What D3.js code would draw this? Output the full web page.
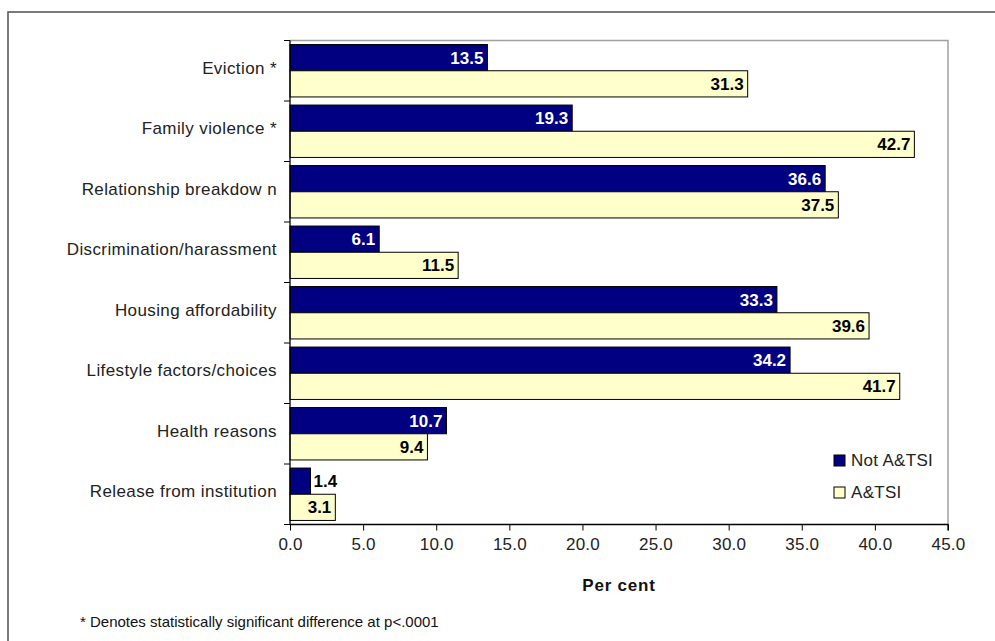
<!DOCTYPE html>
<html>
<head>
<meta charset="utf-8">
<script src="https://cdn.jsdelivr.net/npm/d3@7/dist/d3.min.js"></script>
<style>
	body { margin: 0; background: #fff; }
	svg { display: block; font-family: "Liberation Sans", Arial, sans-serif; }
</style>
</head>
<body>
<div id="chart"></div>
<script>
var categories = ["Eviction *", "Family violence *", "Relationship breakdow n", "Discrimination/harassment",
	"Housing affordability", "Lifestyle factors/choices", "Health reasons", "Release from institution"];
var seriesNames = ["Not A&TSI", "A&TSI"];
var notATSI = [13.5, 19.3, 36.6, 6.1, 33.3, 34.2, 10.7, 1.4];
var aTSI = [31.3, 42.7, 37.5, 11.5, 39.6, 41.7, 9.4, 3.1];
var xTicks = [0, 5, 10, 15, 20, 25, 30, 35, 40, 45];
var footnote = "* Denotes statistically significant difference at p<.0001";

var chart = {
	create : function(config) {
		//
		// Configuration set up
		//
		var _select = config.select || "#chart",
			_width = config.width || 995,
			_height = config.height || 641;

		var colours = ["#000080", "#ffffcc"],
			labelColours = ["#fff", "#000"];

		var svg = d3.select( _select ).append( "svg" )
			.attr( "width", _width )
			.attr( "height", _height );

		// outer frame
		svg.append( "rect" )
			.attr( "x", 8 )
			.attr( "y", 12 )
			.attr( "width", _width + 20 )
			.attr( "height", _height + 20 )
			.attr( "fill", "none" )
			.attr( "stroke", "#5a5a5a" )
			.attr( "stroke-width", 1.6 );

		//
		// Scales
		//
		var x = d3.scaleLinear()
			.domain( [0, 45] )
			.range( [290, 948] );

		var y = d3.scaleBand()
			.domain( categories )
			.range( [40.5, 524.5] )
			.paddingInner( 0.134 )
			.paddingOuter( 0.067 );

		var ySeries = d3.scaleBand()
			.domain( seriesNames )
			.range( [0, y.bandwidth()] );

		var rows = categories.map(function(c, i) {
			return { cat: c, values: [notATSI[i], aTSI[i]] };
		});

		// plot area border (top/right grey)
		svg.append( "path" )
			.attr( "d", "M" + x(0) + "," + y.range()[0] + "H" + x(45) + "V" + y.range()[1] )
			.attr( "fill", "none" )
			.attr( "stroke", "#a0a0a0" )
			.attr( "stroke-width", 1.5 );

		//
		// Bars
		//
		var groups = svg.append( "g" )
			.attr( "class", "bars" )
			.selectAll( "g" )
			.data( rows )
			.enter()
			.append( "g" )
			.attr( "transform", function(d) { return "translate(0," + y(d.cat) + ")"; } );

		var bars = groups.selectAll( "g" )
			.data(function(d) {
				return d.values.map(function(v, j) { return { series: seriesNames[j], j: j, value: v }; });
			})
			.enter()
			.append( "g" );

		bars.append( "rect" )
			.attr( "x", x(0) )
			.attr( "y", function(d) { return ySeries(d.series); } )
			.attr( "width", function(d) { return x(d.value) - x(0); } )
			.attr( "height", ySeries.bandwidth() )
			.attr( "fill", function(d) { return colours[d.j]; } )
			.attr( "stroke", "#000" )
			.attr( "stroke-width", 1 );

		// small bars get their label outside
		var outside = function(d) { return (x(d.value) - x(0)) < 36; };

		bars.append( "text" )
			.attr( "x", function(d) { return outside(d) ? x(d.value) + 3 : x(d.value) - 4; } )
			.attr( "y", function(d) { return ySeries(d.series) + ySeries.bandwidth() / 2 + 6; } )
			.attr( "text-anchor", function(d) { return outside(d) ? "start" : "end"; } )
			.attr( "font-size", 17 )
			.attr( "font-weight", "bold" )
			.attr( "fill", function(d) { return outside(d) ? "#000" : labelColours[d.j]; } )
			.text(function(d) { return d.value.toFixed(1); });

		//
		// Axes
		//
		var xAxis = svg.append( "g" )
			.attr( "transform", "translate(0," + y.range()[1] + ")" )
			.call( d3.axisBottom(x).tickValues(xTicks).tickSize(6).tickFormat(d3.format(".1f")) );

		xAxis.select( ".domain" ).attr( "stroke", "#000" ).attr( "stroke-width", 1.3 ).attr( "d", "M" + x(0) + ",0H" + x(45) + "V6" );
		xAxis.selectAll( ".tick line" ).attr( "stroke", "#000" );
		xAxis.selectAll( ".tick text" )
			.attr( "y", 20 )
			.attr( "dy", "0.35em" )
			.attr( "font-size", 17 )
			.attr( "letter-spacing", 0.2 )
			.attr( "font-family", "Liberation Sans, Arial, sans-serif" )
			.attr( "fill", "#222" );

		// y axis : ticks sit on the category boundaries
		var bounds = d3.range(categories.length + 1).map(function(i) {
			return y.range()[0] + i * y.step();
		});

		var yAxis = svg.append( "g" ).attr( "class", "y-axis" );

		yAxis.append( "line" )
			.attr( "x1", x(0) ).attr( "x2", x(0) )
			.attr( "y1", y.range()[0] ).attr( "y2", y.range()[1] )
			.attr( "stroke", "#000" )
			.attr( "stroke-width", 1.3 );

		yAxis.selectAll( "line.tick" )
			.data( bounds )
			.enter()
			.append( "line" )
			.attr( "class", "tick" )
			.attr( "x1", x(0) - 6 ).attr( "x2", x(0) )
			.attr( "y1", function(d) { return d; } )
			.attr( "y2", function(d) { return d; } )
			.attr( "stroke", "#000" );

		yAxis.selectAll( "text" )
			.data( categories )
			.enter()
			.append( "text" )
			.attr( "x", 277 )
			.attr( "y", function(d) { return y(d) + y.bandwidth() / 2 + 3; } )
			.attr( "text-anchor", "end" )
			.attr( "font-size", 17 )
			.attr( "letter-spacing", 0.4 )
			.attr( "fill", "#222" )
			.text(function(d) { return d; });

		// axis title
		svg.append( "text" )
			.attr( "x", (x(0) + x(45)) / 2 )
			.attr( "y", 591 )
			.attr( "text-anchor", "middle" )
			.attr( "font-size", 17 )
			.attr( "font-weight", "bold" )
			.attr( "letter-spacing", 0.8 )
			.attr( "fill", "#111" )
			.text( "Per cent" );

		//
		// Legend
		//
		var legend = svg.append( "g" )
			.attr( "transform", "translate(834,455)" );

		var items = legend.selectAll( "g" )
			.data( seriesNames )
			.enter()
			.append( "g" )
			.attr( "transform", function(d, i) { return "translate(0," + i * 32 + ")"; } );

		items.append( "rect" )
			.attr( "width", 11 )
			.attr( "height", 11 )
			.attr( "fill", function(d, i) { return colours[i]; } )
			.attr( "stroke", "#000" );

		items.append( "text" )
			.attr( "x", 17 )
			.attr( "y", 11 )
			.attr( "font-size", 17 )
			.attr( "letter-spacing", 0.3 )
			.attr( "fill", "#222" )
			.text(function(d) { return d; });

		// footnote
		svg.append( "text" )
			.attr( "x", 80 )
			.attr( "y", 627 )
			.attr( "font-size", 15 )
			.attr( "fill", "#111" )
			.text( footnote );
	}
};

chart.create({ select: "#chart", width: 995, height: 641 });
</script>
</body>
</html>
